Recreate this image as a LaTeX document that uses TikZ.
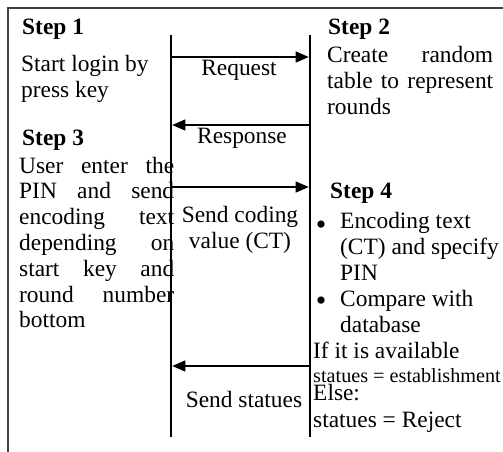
\documentclass[tikz,border=0pt]{standalone}
\usepackage{fontspec}
\setmainfont{Liberation Serif}
\usetikzlibrary{arrows.meta}

\begin{document}
\begin{tikzpicture}[
        x=1pt, y=-1pt,
        every node/.style={inner sep=0pt, font=\fontsize{23.4}{25.8}\selectfont},
        steplabel/.style={anchor=base west, font=\fontsize{23.4}{25.8}\selectfont\bfseries},
        body/.style={anchor=base west, align=left},
        bulletmark/.style={anchor=base, font=\fontsize{30}{30}\selectfont},
        msglabel/.style={anchor=base},
        lifeline/.style={draw, line width=2.6pt},
        msg/.style={draw, line width=1.2pt, shorten >=1.3pt, -{Triangle[length=13pt,width=11pt]}},
    ]
    \useasboundingbox (0,0) rectangle (503,452);
    % frame
    \draw[line width=1.6pt, black!75] (503,8) -- (8,8) -- (8,452);

    % lifelines of user and server
    \coordinate (usertop) at (171,35);
    \coordinate (userbot) at (171,437);
    \coordinate (servtop) at (310,35);
    \coordinate (servbot) at (310,437);
    \draw[lifeline] (usertop) -- (userbot);
    \draw[lifeline] (servtop) -- (servbot);

    % message ends
    \coordinate (ureq) at (171,57);   \coordinate (sreq) at (310,57);
    \coordinate (uresp) at (171,125); \coordinate (sresp) at (310,125);
    \coordinate (uct) at (171,187);   \coordinate (sct) at (310,187);
    \coordinate (ustat) at (171,366); \coordinate (sstat) at (310,366);

    \draw[msg] (ureq) -- (sreq);
    \draw[msg] (sresp) -- (uresp);
    \draw[msg] (uct) -- (sct);
    \draw[msg] (sstat) -- (ustat);

    % labels sit on the baseline of their last line
    \node[msglabel] (reqlabel) at (239,75) {Request};
    \node[msglabel] (resplabel) at (242,143) {Response};
    \node[msglabel, align=center] (ctlabel) at (240,248) {Send coding\\value (CT)};
    \node[msglabel] (statlabel) at (244,407) {Send statues};

    % user side
    \node[steplabel] (step1) at (22,35) {Step 1};
    \node[body] (step1text) at (21,97) {Start login by\\press key};
    \node[steplabel] (step3) at (22,145) {Step 3};
    \node[body, text width=155pt] (step3text) at (19,173) {User\hfill enter\hfill the\\
        PIN\hfill and\hfill send\\
        encoding\hfill text\\
        depending\hfill on\\
        start\hfill key\hfill and\\
        round\hfill number\\
        bottom};

    % server side
    \node[steplabel] (step2) at (328,35) {Step 2};
    \node[body, text width=166pt] (step2text) at (327,63) {Create\hfill random\\
        table\hfill to\hfill represent\\
        rounds};
    \node[steplabel] (step4) at (330,198) {Step 4};
    \node[bulletmark] (bullet1) at (321,234) {\textbullet};
    \node[body] (item1) at (340,280) {Encoding text\\(CT) and specify\\PIN};
    \node[bulletmark] (bullet2) at (321,310) {\textbullet};
    \node[body] (item2) at (340,332) {Compare with\\database};
    \node[body] (avail) at (313,358) {If it is available};
    \node[body, font=\fontsize{20.2}{24}\selectfont] (establish) at (313,382) {statues = establishment};
    \node[body] (elseline) at (313,400) {Else:};
    \node[body] (reject) at (313,427) {statues = Reject};
\end{tikzpicture}
\end{document}
